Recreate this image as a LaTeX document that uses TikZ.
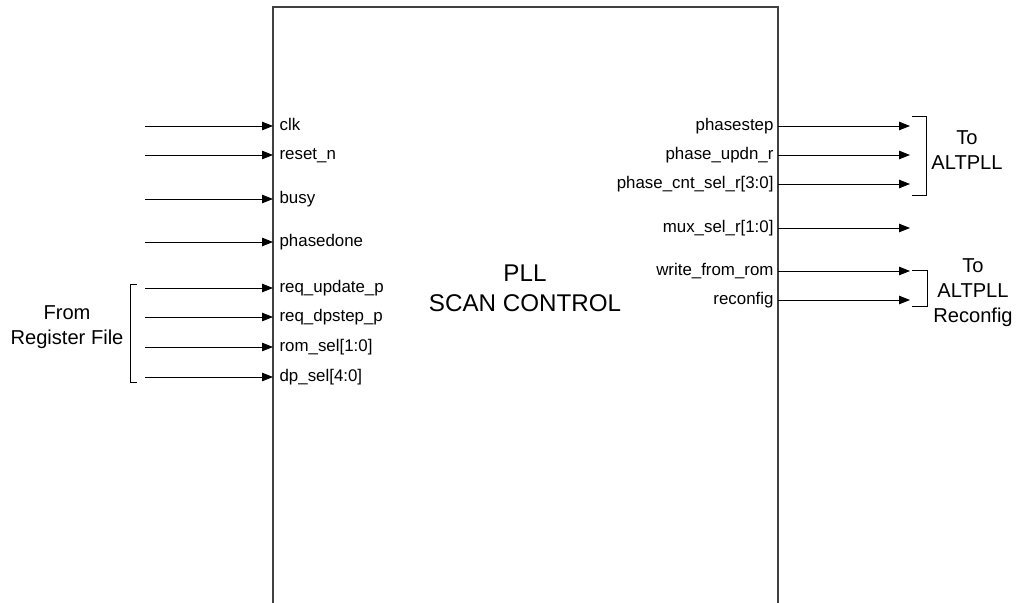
\documentclass[tikz,border=0pt]{standalone}
\usepackage{fontspec}
\setmainfont{Liberation Sans}
\usetikzlibrary{positioning,arrows.meta}
\tikzset{
	every node/.style = { align = center },
	blk/.style = { draw=black!75, line width=0.8pt },
	head/.style = { font=\fontsize{17.2}{21.3}\selectfont },
	ext/.style = { font=\fontsize{14.3}{17.8}\selectfont },
	inp/.style = { anchor=west, inner xsep=4.5pt, inner ysep=2.5pt, text height=1.6ex, text depth=0.45ex, font=\fontsize{12}{14}\selectfont },
	outp/.style = { inp, anchor=east, inner xsep=3pt },
	sig/.style = { ->, line width=0.6pt },
	brk/.style = { line width=0.6pt },
	>={Triangle[length=2.7mm,width=2.1mm]},
}

\begin{document}
\begin{tikzpicture}[x=0.025cm,y=-0.025cm]
\useasboundingbox (0,0) rectangle (1019,603);
\clip (0,0) rectangle (1019,603);

% block, open at the bottom
\draw[blk] (273,640) coordinate (bl) -- (273,7) coordinate (tl) -- (778,7) coordinate (tr) -- (778,640) coordinate (br);
\node (title) [head] at (525,288) {PLL \\ SCAN CONTROL};

% inputs
\node (clk)    [inp] at (273,126) {clk};
\node (rst)    [inp] at (273,155) {reset\_n};
\node (busy)   [inp] at (273,199) {busy};
\node (pdone)  [inp] at (273,242) {phasedone};
\node (requpd) [inp] at (273,288) {req\_update\_p};
\node (reqdp)  [inp] at (273,317) {req\_dpstep\_p};
\node (romsel) [inp] at (273,347) {rom\_sel[1:0]};
\node (dpsel)  [inp] at (273,377) {dp\_sel[4:0]};

\coordinate (clkin)    at (145,126);
\coordinate (rstin)    at (145,155);
\coordinate (busyin)   at (145,199);
\coordinate (pdonein)  at (145,242);
\coordinate (requpdin) at (145,288);
\coordinate (reqdpin)  at (145,317);
\coordinate (romselin) at (145,347);
\coordinate (dpselin)  at (145,377);
\draw[sig] (clkin)    -- (clk.west);
\draw[sig] (rstin)    -- (rst.west);
\draw[sig] (busyin)   -- (busy.west);
\draw[sig] (pdonein)  -- (pdone.west);
\draw[sig] (requpdin) -- (requpd.west);
\draw[sig] (reqdpin)  -- (reqdp.west);
\draw[sig] (romselin) -- (romsel.west);
\draw[sig] (dpselin)  -- (dpsel.west);

\draw[brk] (137,284) -- (130,284) -- (130,382) -- (137,382);
\node (src) [ext] at (67,327) {From \\ Register File};

% outputs
\node (pstep)  [outp] at (778,126) {phasestep};
\node (pupdn)  [outp] at (778,155) {phase\_updn\_r};
\node (pcnt)   [outp] at (778,184) {phase\_cnt\_sel\_r[3:0]};
\node (muxsel) [outp] at (778,228) {mux\_sel\_r[1:0]};
\node (wrom)   [outp] at (778,271) {write\_from\_rom};
\node (rcfg)   [outp] at (778,300) {reconfig};

\coordinate (pstepout)  at (910,126);
\coordinate (pupdnout)  at (910,155);
\coordinate (pcntout)   at (910,184);
\coordinate (muxselout) at (910,228);
\coordinate (wromout)   at (910,271);
\coordinate (rcfgout)   at (910,300);
\draw[sig] (pstep.east)  -- (pstepout);
\draw[sig] (pupdn.east)  -- (pupdnout);
\draw[sig] (pcnt.east)   -- (pcntout);
\draw[sig] (muxsel.east) -- (muxselout);
\draw[sig] (wrom.east)   -- (wromout);
\draw[sig] (rcfg.east)   -- (rcfgout);

\draw[brk] (912,116) -- (926,116) -- (926,195) -- (912,195);
\node (pll) [ext] at (967,150) {To \\ ALTPLL};

\draw[brk] (912,270) -- (927,270) -- (927,306) -- (912,306);
\node (pllcfg) [ext] at (973,293) {To \\ ALTPLL \\ Reconfig};

\end{tikzpicture}
\end{document}
